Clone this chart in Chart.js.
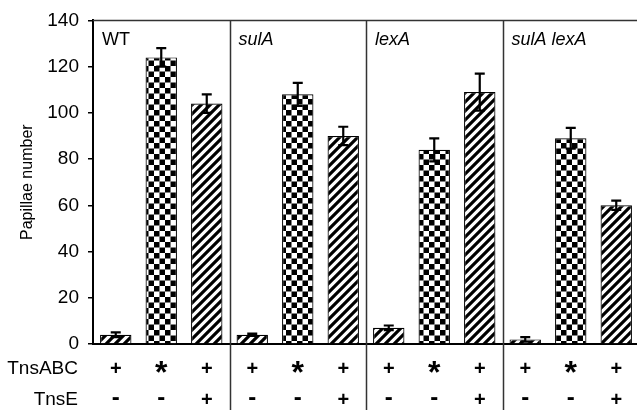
<!DOCTYPE html>
<html>
<head>
<meta charset="utf-8">
<script src="https://cdn.jsdelivr.net/npm/chart.js@4/dist/chart.umd.min.js"></script>
<style>
  html, body { margin: 0; padding: 0; background: #fff; }
  #wrap { width: 637px; height: 410px; overflow: hidden; }
  #box { width: 640px; height: 410px; }
</style>
</head>
<body>
<div id="wrap"><div id="box"><canvas id="chart"></canvas></div></div>
<script>
// data
const groups = ["WT", "sulA", "lexA", "sulA lexA"];
const tnsABC = ["+", "*", "+", "+", "*", "+", "+", "*", "+", "+", "*", "+"];
const tnsE = ["-", "-", "+", "-", "-", "+", "-", "-", "+", "-", "-", "+"];
const papillae = [4, 124, 104, 4, 108, 90, 7, 84, 109, 2, 89, 60];
const errors = [1, 4, 4, 0.5, 5, 4, 1, 5, 8, 1, 4.5, 2];
const yTicks = [0, 20, 40, 60, 80, 100, 120, 140];

const labels = papillae.map((v, i) => groups[Math.floor(i / 3)] + " " + tnsABC[i] + tnsE[i]);
const FONT = "'Liberation Sans', Arial, sans-serif";

// fill patterns
function makeChecker() {
    const c = document.createElement("canvas");
    c.width = 11; c.height = 11;
    const g = c.getContext("2d");
    g.fillStyle = "#fff";
    g.fillRect(0, 0, 11, 11);
    g.fillStyle = "#000";
    g.fillRect(0, 0, 5.5, 5.5);
    g.fillRect(5.5, 5.5, 5.5, 5.5);
    return g.createPattern(c, "repeat");
}
function makeHatch() {
    const s = 9;
    const c = document.createElement("canvas");
    c.width = s; c.height = s;
    const g = c.getContext("2d");
    g.fillStyle = "#fff";
    g.fillRect(0, 0, s, s);
    g.strokeStyle = "#000";
    g.lineWidth = 3.2;
    g.beginPath();
    g.moveTo(-1, s + 1); g.lineTo(s + 1, -1);
    g.moveTo(-s / 2 - 1, s / 2 + 1); g.lineTo(s / 2 + 1, -s / 2 - 1);
    g.moveTo(s / 2 - 1, s * 1.5 + 1); g.lineTo(s * 1.5 + 1, s / 2 - 1);
    g.stroke();
    return g.createPattern(c, "repeat");
}
const checker = makeChecker();
const hatch = makeHatch();
const fills = papillae.map((v, i) => (i % 3 === 1 ? checker : hatch));

// error bars, group frame, group names and the TnsABC / TnsE rows
const decorations = {
    id: "decorations",
    afterDatasetsDraw(chart) {
        const ctx = chart.ctx;
        const x = chart.scales.x, y = chart.scales.y;
        const area = chart.chartArea;
        const catW = (area.right - area.left) / papillae.length;

        ctx.save();
        ctx.strokeStyle = "#000";
        ctx.lineWidth = 2.2;
        papillae.forEach((v, i) => {
            const px = x.getPixelForValue(i);
            const top = y.getPixelForValue(v + errors[i]);
            const bot = y.getPixelForValue(v - errors[i]);
            ctx.beginPath();
            ctx.moveTo(px, bot); ctx.lineTo(px, top);
            ctx.moveTo(px - 5, top); ctx.lineTo(px + 5, top);
            ctx.moveTo(px - 5, bot); ctx.lineTo(px + 5, bot);
            ctx.stroke();
        });

        // top line and group separators
        ctx.strokeStyle = "#333";
        ctx.lineWidth = 1.5;
        ctx.beginPath();
        ctx.moveTo(area.left, area.top); ctx.lineTo(chart.width, area.top);
        for (let g = 1; g < groups.length; g++) {
            const sx = Math.round(area.left + g * 3 * catW) + 0.5;
            ctx.moveTo(sx, area.top); ctx.lineTo(sx, chart.height);
        }
        ctx.stroke();

        // group names
        ctx.fillStyle = "#000";
        ctx.textBaseline = "alphabetic";
        groups.forEach((name, g) => {
            ctx.font = (g === 0 ? "" : "italic ") + "18px " + FONT;
            ctx.fillText(name, area.left + g * 3 * catW + 9, 45);
        });

        // bottom rows
        const rows = [[tnsABC, 367, "TnsABC"], [tnsE, 398, "TnsE"]];
        rows.forEach(([vals, ry, title]) => {
            ctx.font = "19px " + FONT;
            ctx.textAlign = "right";
            let m = ctx.measureText(title);
            ctx.fillText(title, 78, ry + (m.actualBoundingBoxAscent - m.actualBoundingBoxDescent) / 2);
            ctx.textAlign = "center";
            vals.forEach((s, i) => {
                if (s === "*") ctx.font = "bold 32px " + FONT;
                else if (s === "-") ctx.font = "bold 24px " + FONT;
                else ctx.font = "bold 20px " + FONT;
                m = ctx.measureText(s);
                const off = (m.actualBoundingBoxAscent - m.actualBoundingBoxDescent) / 2;
                ctx.fillText(s, x.getPixelForValue(i), ry + off);
            });
        });
        ctx.restore();
    }
};

new Chart(document.getElementById("chart"), {
    type: "bar",
    data: {
        labels: labels,
        datasets: [{
            data: papillae,
            backgroundColor: fills,
            borderColor: "#000",
            borderWidth: 1.2,
            barPercentage: 0.69,
            categoryPercentage: 1
        }]
    },
    options: {
        responsive: true,
        maintainAspectRatio: false,
        animation: false,
        layout: { padding: { top: 15, right: 1, left: 0, bottom: 0 } },
        plugins: { legend: { display: false }, tooltip: { enabled: false } },
        scales: {
            x: {
                grid: { display: false },
                border: { display: true, color: "#000", width: 2 },
                ticks: { display: false },
                afterFit: (s) => { s.height = 66; }
            },
            y: {
                min: 0,
                max: 140,
                afterBuildTicks: (s) => { s.ticks = yTicks.map((v) => ({ value: v })); },
                grid: { drawOnChartArea: false, drawTicks: true, tickLength: 5, color: "#000", lineWidth: 1.5 },
                border: { display: true, color: "#000", width: 2 },
                ticks: {
                    color: "#000",
                    padding: 9,
                    font: { family: FONT, size: 19 }
                },
                title: {
                    display: true,
                    text: "Papillae number",
                    color: "#000",
                    padding: { top: 18, bottom: 0 },
                    font: { family: FONT, size: 16 }
                },
                afterFit: (s) => { s.width = 93; }
            }
        }
    },
    plugins: [decorations]
});
</script>
</body>
</html>
